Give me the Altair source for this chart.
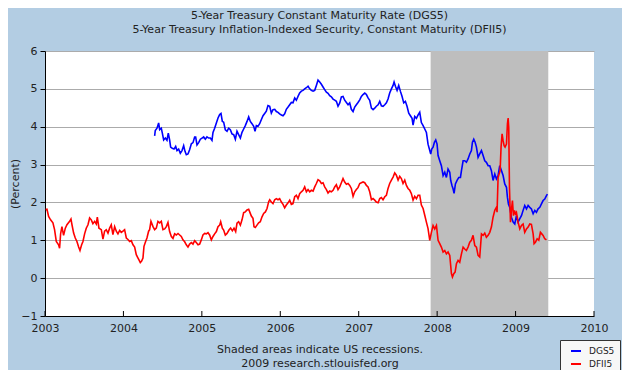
import altair as alt
import pandas as pd

BASE_YEAR = 2003

# DGS5 (5-Year Treasury Constant Maturity), time as years after 2003.0
dgs5_t = [1.398, 1.406, 1.428, 1.449, 1.462, 1.483, 1.496, 1.513, 1.534, 1.555, 1.572, 1.589, 1.602, 1.623, 1.645,
          1.666, 1.683, 1.704, 1.725, 1.747, 1.768, 1.785, 1.802, 1.823, 1.844, 1.866, 1.887, 1.908, 1.921, 1.938,
          1.959, 1.981, 2.002, 2.023, 2.044, 2.065, 2.087, 2.108, 2.129, 2.142, 2.163, 2.185, 2.206, 2.227, 2.244,
          2.261, 2.278, 2.299, 2.321, 2.342, 2.363, 2.384, 2.406, 2.427, 2.448, 2.469, 2.491, 2.512, 2.533, 2.554,
          2.576, 2.597, 2.618, 2.639, 2.661, 2.678, 2.695, 2.716, 2.737, 2.759, 2.780, 2.801, 2.822, 2.843,
          2.865, 2.886, 2.907, 2.929, 2.950, 2.971, 2.992, 3.014, 3.035, 3.056, 3.077, 3.099, 3.120, 3.141, 3.162,
          3.184, 3.205, 3.226, 3.247, 3.269, 3.290, 3.311, 3.333, 3.354, 3.375, 3.396, 3.418, 3.439, 3.460, 3.481,
          3.503, 3.524, 3.545, 3.566, 3.588, 3.609, 3.630, 3.651, 3.673, 3.694, 3.715, 3.736, 3.758, 3.779, 3.800,
          3.821, 3.843, 3.864, 3.885, 3.906, 3.928, 3.949, 3.970, 3.991, 4.013, 4.034, 4.055, 4.077, 4.098, 4.119,
          4.140, 4.162, 4.183, 4.204, 4.225, 4.247, 4.268, 4.289, 4.310, 4.332, 4.353, 4.374, 4.395, 4.417, 4.438,
          4.451, 4.468, 4.489, 4.510, 4.531, 4.553, 4.574, 4.595, 4.616, 4.638, 4.659, 4.680, 4.693, 4.714, 4.736,
          4.757, 4.778, 4.799, 4.821, 4.842, 4.863, 4.884, 4.906, 4.918, 4.931, 4.948, 4.965, 4.982, 4.999, 5.012,
          5.033, 5.054, 5.076, 5.097, 5.118, 5.139, 5.161, 5.173, 5.190, 5.203, 5.216, 5.233, 5.254, 5.276, 5.297,
          5.310, 5.331, 5.352, 5.373, 5.394, 5.416, 5.437, 5.450, 5.467, 5.484, 5.501, 5.522, 5.543, 5.565, 5.586,
          5.607, 5.628, 5.650, 5.671, 5.692, 5.713, 5.735, 5.756, 5.777, 5.798, 5.820, 5.841, 5.862, 5.884, 5.896,
          5.909, 5.926, 5.947, 5.969, 5.990, 6.011, 6.032, 6.054, 6.075, 6.096, 6.117, 6.139, 6.160, 6.181, 6.202,
          6.224, 6.245, 6.266, 6.287, 6.309, 6.330, 6.351, 6.372, 6.394, 6.406]
dgs5_v = [3.76, 3.90, 3.96, 4.10, 3.92, 3.96, 3.83, 3.65, 3.70, 3.64, 3.83, 3.65, 3.46, 3.43, 3.41,
          3.48, 3.37, 3.41, 3.30, 3.37, 3.50, 3.35, 3.26, 3.28, 3.39, 3.55, 3.58, 3.73, 3.73, 3.52,
          3.58, 3.67, 3.70, 3.73, 3.67, 3.73, 3.70, 3.70, 3.64, 3.85, 3.96, 4.10, 4.23, 4.32, 4.35,
          4.14, 4.12, 3.92, 3.88, 3.96, 3.92, 3.81, 3.79, 3.67, 3.88, 3.79, 3.70, 3.85, 3.94, 4.03,
          4.14, 4.26, 4.14, 4.08, 4.01, 3.88, 4.03, 4.01, 4.08, 4.19, 4.29, 4.35, 4.41, 4.56,
          4.54, 4.36, 4.45, 4.46, 4.40, 4.38, 4.34, 4.31, 4.29, 4.34, 4.46, 4.52, 4.58, 4.64, 4.63,
          4.76, 4.70, 4.80, 4.89, 4.94, 4.96, 5.00, 5.03, 5.07, 5.00, 4.96, 4.94, 4.96, 5.09, 5.23,
          5.18, 5.12, 5.05, 4.98, 4.91, 4.88, 4.82, 4.79, 4.73, 4.70, 4.67, 4.54, 4.63, 4.79, 4.80,
          4.70, 4.64, 4.58, 4.63, 4.46, 4.40, 4.52, 4.58, 4.64, 4.71, 4.80, 4.85, 4.89, 4.85, 4.76,
          4.70, 4.49, 4.45, 4.49, 4.54, 4.58, 4.67, 4.55, 4.54, 4.58, 4.63, 4.73, 4.89, 5.00, 5.09,
          5.18, 5.07, 4.96, 5.09, 4.94, 4.80, 4.63, 4.67, 4.54, 4.36, 4.29, 4.22, 4.04, 4.27, 4.22,
          4.31, 4.38, 4.11, 4.03, 3.94, 3.85, 3.54, 3.37, 3.28, 3.41, 3.46, 3.59, 3.65, 3.54, 3.24,
          3.10, 2.97, 2.71, 2.80, 2.66, 2.88, 2.80, 2.58, 2.44, 2.36, 2.24, 2.49, 2.58, 2.66, 2.66,
          2.84, 3.10, 3.10, 3.06, 3.15, 3.28, 3.37, 3.59, 3.67, 3.59, 3.46, 3.19, 3.28, 3.37, 3.24,
          3.10, 3.06, 2.97, 2.97, 2.84, 2.58, 2.75, 2.62, 2.71, 2.97, 2.84, 2.71, 2.49, 2.40, 2.14,
          1.96, 1.87, 1.61, 1.48, 1.43, 1.65, 1.48, 1.57, 1.65, 1.79, 1.92, 1.83, 1.92, 1.87, 1.83,
          1.70, 1.79, 1.74, 1.83, 1.87, 1.96, 2.05, 2.09, 2.18, 2.22]

# DFII5 (5-Year TIPS, constant maturity), time as years after 2003.0
dfii5_t = [0.008, 0.025, 0.046, 0.071, 0.101, 0.122, 0.144, 0.173, 0.186, 0.199, 0.216, 0.237, 0.259, 0.280, 0.314,
           0.331, 0.344, 0.365, 0.386, 0.407, 0.429, 0.446, 0.467, 0.484, 0.505, 0.526, 0.548, 0.569, 0.590, 0.611,
           0.633, 0.654, 0.667, 0.688, 0.718, 0.739, 0.760, 0.781, 0.803, 0.824, 0.845, 0.866, 0.888, 0.909, 0.930,
           0.952, 0.973, 0.994, 1.015, 1.037, 1.058, 1.079, 1.100, 1.122, 1.143, 1.164, 1.181, 1.198, 1.215, 1.232,
           1.249, 1.262, 1.283, 1.300, 1.321, 1.334, 1.351, 1.377, 1.398, 1.419, 1.440, 1.462, 1.483, 1.504, 1.526,
           1.547, 1.568, 1.589, 1.611, 1.632, 1.653, 1.674, 1.696, 1.717, 1.738, 1.759, 1.781, 1.802, 1.823, 1.844,
           1.866, 1.887, 1.908, 1.929, 1.951, 1.972, 1.993, 2.014, 2.036, 2.057, 2.078, 2.099, 2.121, 2.142, 2.163,
           2.185, 2.206, 2.227, 2.240, 2.261, 2.278, 2.299, 2.321, 2.346, 2.367, 2.389, 2.410, 2.431, 2.448, 2.469,
           2.491, 2.512, 2.533, 2.554, 2.576, 2.597, 2.610, 2.631, 2.652, 2.665, 2.682, 2.703, 2.724, 2.745, 2.767,
           2.788, 2.810, 2.831, 2.852, 2.865, 2.886, 2.907, 2.929, 2.950, 2.971, 2.992, 3.014, 3.035, 3.056, 3.077,
           3.099, 3.120, 3.141, 3.162, 3.184, 3.205, 3.226, 3.247, 3.269, 3.290, 3.311, 3.333, 3.354, 3.375, 3.396,
           3.418, 3.439, 3.460, 3.481, 3.503, 3.524, 3.545, 3.566, 3.588, 3.609, 3.630, 3.651, 3.673, 3.694, 3.715,
           3.736, 3.758, 3.779, 3.800, 3.821, 3.843, 3.864, 3.885, 3.906, 3.928, 3.949, 3.970, 3.991, 4.013, 4.034,
           4.055, 4.077, 4.098, 4.119, 4.140, 4.162, 4.183, 4.204, 4.225, 4.247, 4.268, 4.289, 4.310, 4.332, 4.353,
           4.374, 4.395, 4.417, 4.438, 4.459, 4.480, 4.502, 4.523, 4.544, 4.565, 4.587, 4.608, 4.629, 4.651, 4.672,
           4.693, 4.714, 4.736, 4.757, 4.778, 4.799, 4.821, 4.842, 4.863, 4.884, 4.906, 4.927, 4.948, 4.969, 4.991,
           5.012, 5.033, 5.054, 5.076, 5.097, 5.118, 5.139, 5.161, 5.182, 5.195, 5.212, 5.229, 5.246, 5.267, 5.288,
           5.310, 5.331, 5.352, 5.373, 5.394, 5.416, 5.437, 5.458, 5.480, 5.501, 5.522, 5.543, 5.565, 5.586, 5.607,
           5.628, 5.650, 5.671, 5.692, 5.713, 5.735, 5.756, 5.764, 5.777, 5.790, 5.803, 5.815, 5.828, 5.841, 5.854,
           5.866, 5.884, 5.896, 5.905, 5.913, 5.922, 5.935, 5.947, 5.960, 5.973, 5.986, 5.998, 6.011, 6.032, 6.054,
           6.075, 6.096, 6.117, 6.139, 6.160, 6.181, 6.202, 6.224, 6.236, 6.253, 6.275, 6.296, 6.317, 6.334, 6.351,
           6.372, 6.394]
dfii5_v = [1.81, 1.82, 1.63, 1.54, 1.46, 1.28, 0.97, 0.88, 0.79, 1.17, 1.36, 1.13, 1.32, 1.41, 1.50,
           1.56, 1.41, 1.19, 1.06, 0.97, 0.82, 0.73, 0.88, 0.97, 1.17, 1.32, 1.41, 1.59, 1.54, 1.44,
           1.50, 1.43, 1.61, 1.32, 1.28, 1.03, 1.24, 1.28, 1.19, 1.32, 1.41, 1.15, 1.36, 1.24, 1.17,
           1.26, 1.21, 1.24, 1.28, 1.06, 1.02, 0.97, 0.99, 0.88, 0.82, 0.62, 0.55, 0.48, 0.41, 0.45,
           0.53, 0.84, 0.97, 1.06, 1.24, 1.28, 1.50, 1.36, 1.28, 1.32, 1.50, 1.46, 1.50, 1.28, 1.30,
           1.36, 1.47, 1.23, 1.10, 1.05, 1.17, 1.14, 1.18, 1.14, 1.10, 1.01, 0.96, 0.88, 0.82, 0.90,
           0.94, 0.90, 0.99, 0.94, 0.88, 0.90, 1.01, 1.14, 1.18, 1.17, 1.20, 1.14, 1.01, 1.10, 1.17,
           1.23, 1.36, 1.40, 1.49, 1.32, 1.27, 1.14, 1.18, 1.27, 1.32, 1.25, 1.32, 1.23, 1.45, 1.49,
           1.40, 1.54, 1.73, 1.75, 1.80, 1.82, 1.75, 1.64, 1.58, 1.36, 1.34, 1.40, 1.46, 1.49, 1.62,
           1.71, 1.75, 1.84, 2.02, 2.07, 2.01, 1.97, 2.07, 2.10, 2.07, 2.10, 2.01, 1.95, 1.86, 1.93,
           1.99, 2.06, 1.95, 1.97, 2.15, 2.19, 2.10, 2.23, 2.28, 2.32, 2.41, 2.28, 2.34, 2.28, 2.32,
           2.30, 2.41, 2.50, 2.60, 2.57, 2.50, 2.52, 2.41, 2.34, 2.25, 2.30, 2.28, 2.32, 2.41, 2.47,
           2.34, 2.41, 2.52, 2.63, 2.54, 2.48, 2.50, 2.45, 2.37, 2.16, 2.28, 2.34, 2.39, 2.50, 2.52,
           2.54, 2.52, 2.45, 2.41, 2.28, 2.07, 2.10, 2.06, 2.01, 1.99, 2.10, 2.13, 2.07, 2.15, 2.19,
           2.37, 2.50, 2.59, 2.67, 2.78, 2.72, 2.59, 2.69, 2.63, 2.50, 2.59, 2.45, 2.37, 2.32, 2.23,
           2.06, 2.16, 2.10, 2.19, 2.19, 1.93, 1.84, 1.66, 1.48, 1.31, 1.00, 1.21, 1.39, 1.30, 1.39,
           1.00, 0.91, 0.82, 0.69, 0.73, 0.64, 0.69, 0.60, 0.12, 0.03, 0.12, 0.16, 0.38, 0.47, 0.42,
           0.64, 0.82, 0.77, 0.73, 0.82, 0.95, 1.00, 1.13, 0.86, 0.82, 0.60, 0.56, 1.17, 1.13, 1.19,
           1.08, 1.13, 1.21, 1.35, 1.61, 1.79, 1.87, 1.74, 2.66, 2.75, 2.84, 3.46, 3.81, 3.63, 3.50,
           3.46, 3.54, 4.07, 4.23, 3.98, 2.40, 1.48, 1.79, 2.05, 1.65, 1.79, 1.70, 1.74, 1.48, 1.30,
           1.39, 1.43, 1.21, 1.30, 1.35, 1.43, 1.42, 1.17, 0.91, 0.95, 1.04, 1.00, 1.21, 1.17, 1.13,
           1.04, 1.01]

series_names = ["DGS5", "DFII5"]
series_colors = ["#0000FF", "#FF0000"]
recession_start = [2007.917]
recession_end = [2009.417]
year_ticks = [2003, 2004, 2005, 2006, 2007, 2008, 2009, 2010]
y_ticks = [-1, 0, 1, 2, 3, 4, 5, 6]

title_lines = ["5-Year Treasury Constant Maturity Rate (DGS5)",
               "5-Year Treasury Inflation-Indexed Security, Constant Maturity (DFII5)"]
footer_lines = ["Shaded areas indicate US recessions.", "2009 research.stlouisfed.org"]

blue_df = pd.DataFrame({"year": [BASE_YEAR + t for t in dgs5_t], "value": dgs5_v, "series": series_names[0]})
red_df = pd.DataFrame({"year": [BASE_YEAR + t for t in dfii5_t], "value": dfii5_v, "series": series_names[1]})
rec_df = pd.DataFrame({"start": recession_start, "end": recession_end})
tick_df = pd.DataFrame({"year": year_ticks})

W, H = 549, 265
FONT = "DejaVu Sans"
TXT = "#222222"

x_scale = alt.Scale(domain=[2003, 2010], nice=False, zero=False)
y_scale = alt.Scale(domain=[-1, 6], nice=False, zero=False)

x_axis = alt.Axis(values=year_ticks, format="d", ticks=False, grid=False, domainColor="black",
                  domainWidth=1, labelFont=FONT, labelFontSize=11, labelColor=TXT, labelPadding=6,
                  labelFlush=False, title=footer_lines, titleFont=FONT, titleFontSize=11,
                  titleFontWeight="normal", titleColor=TXT, titlePadding=10, titleLineHeight=14,
                  zindex=1)
y_axis = alt.Axis(values=y_ticks, format="d", tickSize=5, tickColor="black", domainColor="black",
                  grid=True, gridColor="#ABABAB", gridWidth=1, labelFont=FONT, labelFontSize=11,
                  labelColor=TXT, labelPadding=3, title="(Percent)", titleFont=FONT,
                  titleFontSize=11, titleFontWeight="normal", titleColor=TXT, titlePadding=0,
                  zindex=0)

color_scale = alt.Scale(domain=series_names, range=series_colors)
legend = alt.Legend(title=None, orient="none", legendX=515, legendY=289, direction="vertical",
                    fillColor="#F7F7F7", strokeColor="#333333", padding=5, symbolOffset=5,
                    labelOffset=7, symbolType="stroke", symbolSize=100, symbolStrokeWidth=2,
                    labelFont=FONT, labelFontSize=9, labelColor=TXT, rowPadding=2)

shade = alt.Chart(rec_df).mark_rect(color="#BEBEBE").encode(
    x=alt.X("start:Q", scale=x_scale, axis=x_axis),
    x2="end:Q",
    y=alt.value(0),
    y2=alt.value(H),
)

blue = alt.Chart(blue_df).mark_line(strokeWidth=1.6).encode(
    x=alt.X("year:Q", scale=x_scale, axis=x_axis),
    y=alt.Y("value:Q", scale=y_scale, axis=y_axis),
    color=alt.Color("series:N", scale=color_scale, legend=legend),
)

red = alt.Chart(red_df).mark_line(strokeWidth=1.6).encode(
    x=alt.X("year:Q", scale=x_scale, axis=x_axis),
    y=alt.Y("value:Q", scale=y_scale, axis=y_axis),
    color=alt.Color("series:N", scale=color_scale, legend=legend),
)

ticks = alt.Chart(tick_df).mark_rule(color="black", strokeWidth=1).encode(
    x=alt.X("year:Q", scale=x_scale, axis=x_axis),
    y=alt.value(H),
    y2=alt.value(H - 5),
)

chart = alt.layer(shade, blue, red, ticks).properties(
    width=W,
    height=H,
    autosize="none",
    padding={"left": 37, "top": 43, "right": 28, "bottom": 54},
    background="#B3CDE3",
    title=alt.TitleParams(text=title_lines, font=FONT, fontSize=11, fontWeight="normal",
                          color=TXT, anchor="middle", lineHeight=14, offset=10),
).configure_view(fill="white", strokeWidth=0)

chart.save("out.html", embed_options={"renderer": "svg", "actions": False})
